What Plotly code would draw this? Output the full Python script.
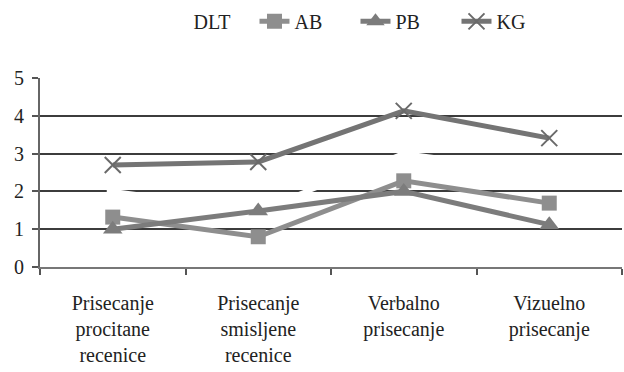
import plotly.graph_objects as go

categories = ["Prisecanje<br>procitane<br>recenice", "Prisecanje<br>smisljene<br>recenice",
              "Verbalno<br>prisecanje", "Vizuelno<br>prisecanje"]
dlt = [2.0, 1.5, 3.0, 2.5]
ab = [1.32, 0.80, 2.28, 1.69]
pb = [1.0, 1.48, 2.0, 1.12]
kg = [2.70, 2.78, 4.13, 3.41]

FONT = "Liberation Serif"
fig = go.Figure()
fig.add_trace(go.Scatter(x=categories, y=dlt, name="DLT", mode="lines+markers",
                         line=dict(color="white", width=5),
                         marker=dict(symbol="square", size=12, color="white")))
fig.add_trace(go.Scatter(x=categories, y=ab, name="AB", mode="lines+markers",
                         line=dict(color="#8e8e8e", width=5),
                         marker=dict(symbol="square", size=15, color="#8e8e8e")))
fig.add_trace(go.Scatter(x=categories, y=pb, name="PB", mode="lines+markers",
                         line=dict(color="#7c7c7c", width=5),
                         marker=dict(symbol="triangle-up", size=17, color="#7c7c7c")))
fig.add_trace(go.Scatter(x=categories, y=kg, name="KG", mode="lines+markers",
                         line=dict(color="#747474", width=5),
                         marker=dict(symbol="x-thin", size=16, line=dict(color="#6a6a6a", width=2))))

fig.update_layout(
    width=624, height=372,
    margin=dict(l=40, r=2, t=78, b=105, autoexpand=False),
    paper_bgcolor="white", plot_bgcolor="white",
    font=dict(family=FONT, size=20, color="#222222"),
    showlegend=True,
    legend=dict(orientation="h", x=0.195, xanchor="left", y=0.995, yanchor="top",
                yref="container", font=dict(size=20), itemwidth=30,
                entrywidth=56, entrywidthmode="pixels",
                tracegroupgap=0, traceorder="normal", bgcolor="rgba(0,0,0,0)"),
    xaxis=dict(type="category", range=[-0.5, 3.5], tickson="boundaries",
               ticks="outside", ticklen=6, tickcolor="#555555", tickwidth=1.5,
               showline=True, linecolor="#777777", linewidth=2, ticklabelstandoff=17,
               showgrid=False, tickfont=dict(size=20), fixedrange=True, automargin=False),
    yaxis=dict(range=[0, 5], dtick=1, ticks="outside", ticklen=6, tickcolor="#555555",
               tickwidth=1.5, showline=True, linecolor="#666666", linewidth=2,
               showgrid=True, gridcolor="#3c3c3c", gridwidth=1.5, zeroline=False,
               tickfont=dict(size=20), ticklabelstandoff=4, automargin=False),
)
fig.write_html("out.html")
